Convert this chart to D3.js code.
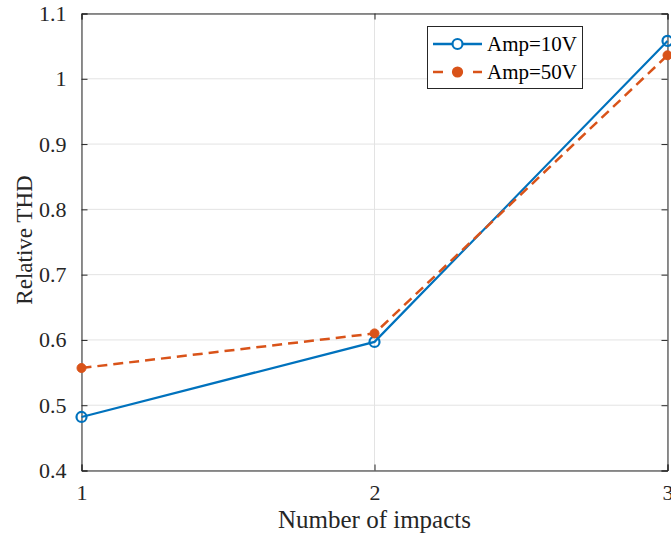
<!DOCTYPE html>
<html>
<head>
<meta charset="utf-8">
<script src="https://cdn.jsdelivr.net/npm/d3@7"></script>
<style>
  html, body { margin: 0; padding: 0; background: #fff; }
  svg text { font-family: "Liberation Serif", "Times New Roman", serif; fill: #262626; }
</style>
</head>
<body>
<svg id="chart" width="671" height="543"></svg>
<script>
// Impact counts and relative THD for the two excitation amplitudes
const impacts = [1, 2, 3];
const amp10 = [0.482, 0.597, 1.058];
const amp50 = [0.557, 0.610, 1.036];
const seriesNames = ["Amp=10V", "Amp=50V"];
const yTicks = [0.4, 0.5, 0.6, 0.7, 0.8, 0.9, 1, 1.1];
const xTicks = [1, 2, 3];

const svg = d3.select("#chart");
const m = { left: 81.5, top: 13.5, right: 667.5, bottom: 470.5 };
const x = d3.scaleLinear().domain([1, 3]).range([m.left, m.right]);
const y = d3.scaleLinear().domain([0.4, 1.1]).range([m.bottom, m.top]);

const axisColor = "#262626";
const gridColor = "#e3e3e3";
const c1 = "#0072BD", c2 = "#D95319";
const tickFont = 22;

// grid
const grid = svg.append("g");
grid.selectAll(".gy").data(yTicks).join("line")
  .attr("x1", m.left).attr("x2", m.right)
  .attr("y1", d => y(d)).attr("y2", d => y(d))
  .attr("stroke", gridColor).attr("stroke-width", 1);
grid.selectAll(".gx").data(xTicks).join("line")
  .attr("y1", m.top).attr("y2", m.bottom)
  .attr("x1", d => x(d)).attr("x2", d => x(d))
  .attr("stroke", gridColor).attr("stroke-width", 1);

// axes (ticks inward, box on)
const tickLen = 6;
const fmt = d => d3.format("")(+d.toFixed(1));
svg.append("g").attr("transform", `translate(${m.left},0)`)
  .call(d3.axisLeft(y).tickValues(yTicks).tickSize(-tickLen).tickPadding(15).tickFormat(fmt))
  .call(g => g.select(".domain").attr("stroke", axisColor))
  .call(g => g.selectAll(".tick line").attr("stroke", axisColor))
  .call(g => g.selectAll("text").style("font-size", tickFont + "px").attr("fill", axisColor));
svg.append("g").attr("transform", `translate(${m.right},0)`)
  .call(d3.axisRight(y).tickValues(yTicks).tickSize(-tickLen).tickFormat(""))
  .call(g => g.select(".domain").attr("stroke", axisColor))
  .call(g => g.selectAll(".tick line").attr("stroke", axisColor));
svg.append("g").attr("transform", `translate(0,${m.bottom})`)
  .call(d3.axisBottom(x).tickValues(xTicks).tickSize(-tickLen).tickPadding(14).tickFormat(d3.format("d")))
  .call(g => g.select(".domain").attr("stroke", axisColor))
  .call(g => g.selectAll(".tick line").attr("stroke", axisColor))
  .call(g => g.selectAll("text").style("font-size", tickFont + "px").attr("fill", axisColor));
svg.append("g").attr("transform", `translate(0,${m.top})`)
  .call(d3.axisTop(x).tickValues(xTicks).tickSize(-tickLen).tickFormat(""))
  .call(g => g.select(".domain").attr("stroke", axisColor))
  .call(g => g.selectAll(".tick line").attr("stroke", axisColor));

// axis titles
svg.append("text").attr("x", (m.left + m.right) / 2).attr("y", 528)
  .attr("text-anchor", "middle").style("font-size", "25px").text("Number of impacts");
svg.append("text").attr("transform", `translate(32,${(m.top + m.bottom) / 2 - 2}) rotate(-90)`)
  .attr("text-anchor", "middle").style("font-size", "23px").text("Relative THD");

// series
const line = d3.line().x((d, i) => x(impacts[i])).y(d => y(d));
svg.append("path").datum(amp10).attr("d", line)
  .attr("fill", "none").attr("stroke", c1).attr("stroke-width", 2.2);
svg.append("path").datum(amp50).attr("d", line)
  .attr("fill", "none").attr("stroke", c2).attr("stroke-width", 2.5).attr("stroke-dasharray", "10,6");
svg.selectAll(".m10").data(amp10).join("circle")
  .attr("cx", (d, i) => x(impacts[i])).attr("cy", d => y(d)).attr("r", 5)
  .attr("fill", "none").attr("stroke", c1).attr("stroke-width", 2.2);
svg.selectAll(".m50").data(amp50).join("circle")
  .attr("cx", (d, i) => x(impacts[i])).attr("cy", d => y(d)).attr("r", 4.5)
  .attr("fill", c2).attr("stroke", c2);

// legend
const lg = svg.append("g");
lg.append("rect").attr("x", 427.5).attr("y", 26.5).attr("width", 155).attr("height", 62)
  .attr("fill", "#fff").attr("stroke", "#262626").attr("stroke-width", 1);
const rows = [
  { name: seriesNames[0], color: c1, dash: null, open: true, yy: 44 },
  { name: seriesNames[1], color: c2, dash: "10,10", open: false, yy: 72 }
];
rows.forEach(r => {
  lg.append("line").attr("x1", 433).attr("x2", 482).attr("y1", r.yy).attr("y2", r.yy)
    .attr("stroke", r.color).attr("stroke-width", 2.4).attr("stroke-dasharray", r.dash);
  lg.append("circle").attr("cx", 457.5).attr("cy", r.yy).attr("r", r.open ? 5 : 4.5)
    .attr("fill", r.open ? "#fff" : r.color).attr("stroke", r.color).attr("stroke-width", 2.2);
  lg.append("text").attr("x", 487).attr("y", r.yy + 7).style("font-size", "21px").style("fill", "#000").text(r.name);
});
</script>
</body>
</html>
